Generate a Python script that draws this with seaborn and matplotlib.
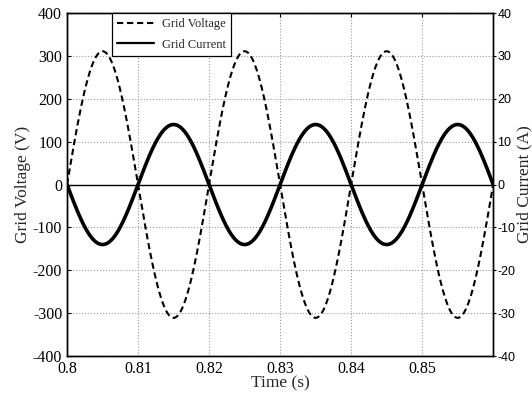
import numpy as np
import pandas as pd
import seaborn as sns
import matplotlib
matplotlib.use("Agg")
import matplotlib.pyplot as plt
from matplotlib.lines import Line2D

# Waveform parameters
t_start, t_end = 0.8, 0.86
line_frequency = 50.0          # Hz
voltage_peak = 311.0           # V
current_peak = 14.0            # A (anti-phase with voltage)
x_ticks = [0.8, 0.81, 0.82, 0.83, 0.84, 0.85]
x_tick_labels = ["0.8", "0.81", "0.82", "0.83", "0.84", "0.85"]
v_ticks = [-400, -300, -200, -100, 0, 100, 200, 300, 400]
i_ticks = [-40, -30, -20, -10, 0, 10, 20, 30, 40]

t = np.linspace(t_start, t_end, 1201)
phase = 2 * np.pi * line_frequency * (t - t_start)
df = pd.DataFrame({
    "time": t,
    "voltage": voltage_peak * np.sin(phase),
    "current": -current_peak * np.sin(phase),
})

sns.set_style("white")
plt.rcParams["font.family"] = ["Liberation Serif", "DejaVu Serif"]
plt.rcParams["axes.unicode_minus"] = False

fig = plt.figure(figsize=(5.32, 3.96), dpi=100)
ax = fig.add_axes([0.126, 0.101, 0.801, 0.866])
ax2 = ax.twinx()

dash = (0, (3.0, 1.8))
sns.lineplot(data=df, x="time", y="voltage", ax=ax, color="black",
             linestyle=dash, linewidth=1.5)
sns.lineplot(data=df, x="time", y="current", ax=ax2, color="black",
             linewidth=2.6)
ax.axhline(0, color="black", linewidth=1.0, zorder=1)

ax.set_xlim(t_start, t_end)
ax.set_ylim(-400, 400)
ax2.set_ylim(-40, 40)
ax.set_xticks(x_ticks)
ax.set_xticklabels(x_tick_labels)
ax.set_yticks(v_ticks)
ax2.set_yticks(i_ticks)

ax.grid(True, color="#999999", linestyle=":", linewidth=0.8)
ax.set_axisbelow(True)

for a in (ax, ax2):
    for s in a.spines.values():
        s.set_color("black")
        s.set_linewidth(1.0)

ax.tick_params(axis="both", direction="in", length=3, labelsize=11.5,
               top=True, colors="black")
ax2.tick_params(axis="y", direction="out", length=2, labelsize=9,
                colors="black", pad=1)
for lbl in ax2.get_yticklabels():
    lbl.set_family(["Liberation Sans", "DejaVu Sans"])

ax.set_xlabel("Time (s)", fontsize=12.5, labelpad=-1)
ax.set_ylabel("Grid Voltage (V)", fontsize=12.5, labelpad=1)
ax2.set_ylabel("Grid Current (A)", fontsize=12.5, labelpad=1)

handles = [
    Line2D([], [], color="black", linestyle=dash, linewidth=1.5),
    Line2D([], [], color="black", linewidth=1.6),
]
leg = ax2.legend(handles, ["Grid Voltage", "Grid Current"],
                 loc="upper left", bbox_to_anchor=(0.105, 1.0),
                 fontsize=9, frameon=True, fancybox=False,
                 edgecolor="black", framealpha=1, borderpad=0.4,
                 labelspacing=0.7, handlelength=3.0, handletextpad=0.6,
                 borderaxespad=0)
leg.get_frame().set_linewidth(0.9)

fig.savefig("out.png", dpi=100)
